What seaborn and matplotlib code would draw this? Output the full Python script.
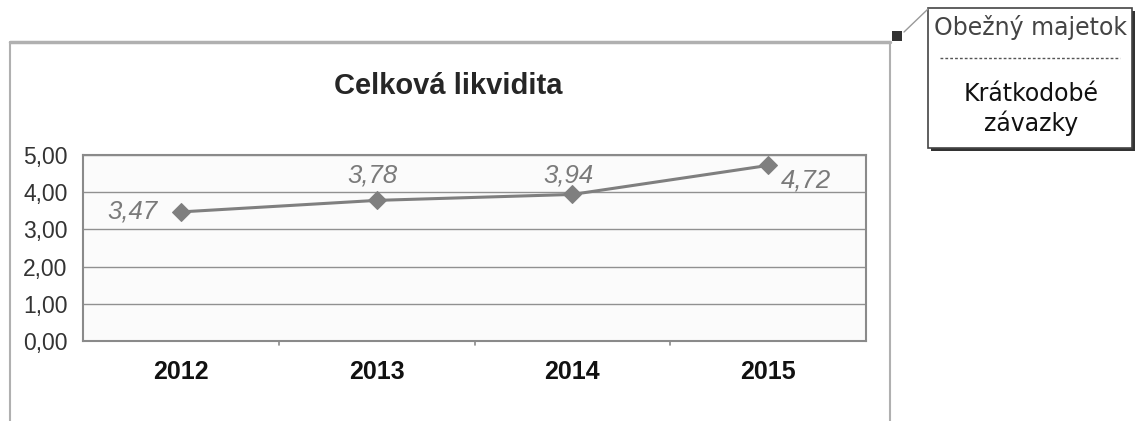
import matplotlib
matplotlib.use("Agg")
import matplotlib.pyplot as plt
import matplotlib.patches as patches
import matplotlib.lines as mlines
import seaborn as sns
import pandas as pd

# chart data
years = ["2012", "2013", "2014", "2015"]
values = [3.47, 3.78, 3.94, 4.72]
labels = ["3,47", "3,78", "3,94", "4,72"]
yticks = [0, 1, 2, 3, 4, 5]
ytick_labels = ["0,00", "1,00", "2,00", "3,00", "4,00", "5,00"]
title = "Celková likvidita"
note_top = "Obežný majetok"
note_bottom = "Krátkodobé\nzávazky"

df = pd.DataFrame({"rok": years, "hodnota": values})

sns.set_style("white")
plt.rcParams["font.family"] = ["Liberation Sans", "DejaVu Sans"]

W, H = 1135, 421
fig = plt.figure(figsize=(W / 100, H / 100), dpi=100)

def fx(px):
    return px / W

def fy(py):
    return 1 - py / H

# outer chart frame (cut off at the bottom)
frame = "#b0b0b0"
fig.add_artist(mlines.Line2D([fx(10), fx(890)], [fy(42), fy(42)], color=frame, lw=2.5))
fig.add_artist(mlines.Line2D([fx(10), fx(10)], [fy(42), 0], color=frame, lw=1.5))
fig.add_artist(mlines.Line2D([fx(890), fx(890)], [fy(42), 0], color=frame, lw=1.5))

ax = fig.add_axes([fx(83), fy(341), fx(866) - fx(83), (341 - 155) / H])
ax.set_facecolor("#fbfbfb")

sns.lineplot(data=df, x="rok", y="hodnota", ax=ax, color="#7f7f7f", lw=2.2,
             marker="D", markersize=9, markeredgecolor="#7f7f7f", sort=False)

ax.set_xlim(-0.5, 3.5)
ax.set_ylim(0, 5)
ax.set_yticks(yticks)
ax.set_yticklabels(ytick_labels, fontsize=16.5, color="#333333")
ax.set_xticks(range(len(years)))
ax.set_xticklabels(years, fontsize=18, fontweight="bold", color="#111111")
ax.set_xlabel("")
ax.set_ylabel("")
ax.grid(axis="y", color="#909090", lw=1)
ax.set_axisbelow(True)
for s in ax.spines.values():
    s.set_color("#8a8a8a")
    s.set_linewidth(1.5)
ax.tick_params(axis="y", length=5, color="#8a8a8a", pad=6)
ax.tick_params(axis="x", length=0, pad=14)
for xb in [0.5, 1.5, 2.5]:
    ax.plot([xb, xb], [0, -0.12], color="#8a8a8a", lw=1.2, clip_on=False)

# data labels
lab_kw = dict(fontsize=18.5, style="italic", color="#7a7a7a")
ax.annotate(labels[0], (0, values[0]), xytext=(-17, 0), textcoords="offset points",
            ha="right", va="center", **lab_kw)
ax.annotate(labels[1], (1, values[1]), xytext=(-3, 9), textcoords="offset points",
            ha="center", va="bottom", **lab_kw)
ax.annotate(labels[2], (2, values[2]), xytext=(-3, 5), textcoords="offset points",
            ha="center", va="bottom", **lab_kw)
ax.annotate(labels[3], (3, values[3]), xytext=(9, -2), textcoords="offset points",
            ha="left", va="top", **lab_kw)

fig.text(fx(448), fy(86), title, ha="center", va="center", fontsize=21, fontweight="bold")

# callout box at the top right
fig.add_artist(patches.Rectangle((fx(931), fy(151)), fx(205), (151 - 11) / H,
                                 facecolor="#333333", edgecolor="none"))
fig.add_artist(patches.Rectangle((fx(928), fy(148)), fx(204), (148 - 8) / H,
                                 facecolor="white", edgecolor="#444444", lw=1.2))
fig.add_artist(mlines.Line2D([fx(940), fx(1120)], [fy(58), fy(58)], color="#555555",
                             lw=1, ls=(0, (2, 1.5))))
fig.text(fx(1031), fy(27), note_top, ha="center", va="center", fontsize=17,
         color="#444444", family=["DejaVu Sans"])
fig.text(fx(1031), fy(109), note_bottom, ha="center", va="center", fontsize=17,
         color="#111111", family=["DejaVu Sans"], linespacing=1.2)
fig.add_artist(patches.Rectangle((fx(892), fy(41)), fx(10), 10 / H,
                                 facecolor="#333333", edgecolor="none"))
fig.add_artist(mlines.Line2D([fx(904), fx(928)], [fy(32), fy(9)], color="#999999", lw=1))

fig.savefig("out.png", dpi=100, facecolor="white")
